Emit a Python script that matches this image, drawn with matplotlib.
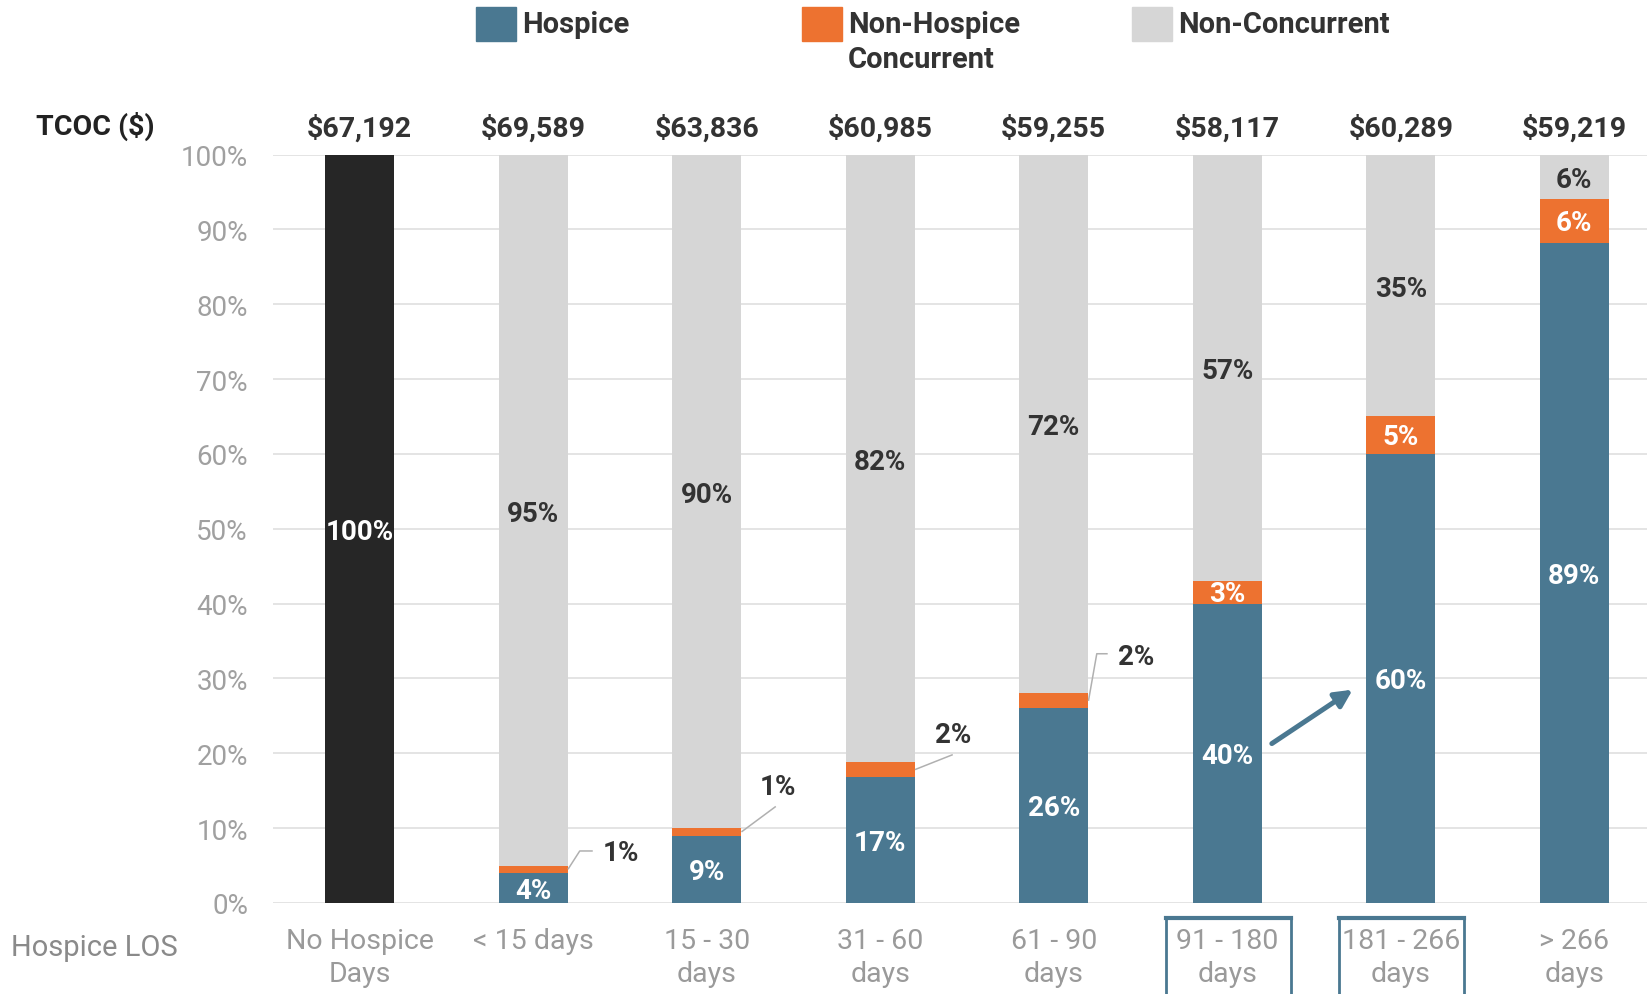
import matplotlib
matplotlib.use("Agg")
import matplotlib.pyplot as plt
from matplotlib.patches import Rectangle
from matplotlib.lines import Line2D
from matplotlib.transforms import blended_transform_factory
import numpy as np

plt.rcParams['font.family'] = ['Roboto', 'DejaVu Sans']

# ---------------- data ----------------
categories = ["No Hospice\nDays", "< 15 days", "15 - 30\ndays", "31 - 60\ndays",
              "61 - 90\ndays", "91 - 180\ndays", "181 - 266\ndays", "> 266\ndays"]
tcoc = ["$67,192", "$69,589", "$63,836", "$60,985", "$59,255", "$58,117", "$60,289", "$59,219"]
hospice = [0, 4, 9, 17, 26, 40, 60, 89]
non_hospice_concurrent = [0, 1, 1, 2, 2, 3, 5, 6]
non_concurrent = [100, 95, 90, 82, 72, 57, 35, 6]
yticks = [0, 10, 20, 30, 40, 50, 60, 70, 80, 90, 100]
highlight = [5, 6]

# ---------------- style ----------------
BLUE = "#4a7891"
ORANGE = "#ed7230"
GRAY = "#d6d6d6"
BLACK = "#262626"
DARK = "#333333"
W, H = 1647, 995
FS = 20

fig = plt.figure(figsize=(W / 100, H / 100), dpi=100)
ax = fig.add_axes([273 / W, (H - 904) / H, 1388 / W, (904 - 155.5) / H])

x = np.arange(len(categories))
hos = np.array(hospice, float)
nhc = np.array(non_hospice_concurrent, float)
nc = np.array(non_concurrent, float)
tot = hos + nhc + nc
hos_s, nhc_s, nc_s = hos / tot * 100, nhc / tot * 100, nc / tot * 100

bw = 0.40
ax.bar(x, hos_s, bw, color=BLUE, zorder=3)
ax.bar(x, nhc_s, bw, bottom=hos_s, color=ORANGE, zorder=3)
top_colors = [BLACK] + [GRAY] * (len(x) - 1)
ax.bar(x, nc_s, bw, bottom=hos_s + nhc_s, color=top_colors, zorder=3)

ax.set_xlim(-0.5, len(x) - 0.5)
ax.set_ylim(0, 100)
ax.set_yticks(yticks)
ax.set_yticklabels([f"{v}%" for v in yticks])
ax.tick_params(axis='y', length=0, pad=18, labelsize=20, labelcolor="#a0a0a0")
ax.set_xticks(x)
ax.set_xticklabels(categories, linespacing=1.25)
ax.tick_params(axis='x', length=0, pad=17.5, labelsize=20.5, labelcolor="#9a9a9a")
for s in ax.spines.values():
    s.set_visible(False)
ax.yaxis.grid(True, color="#e2e2e2", lw=1.3, zorder=0)
ax.set_axisbelow(True)

# value labels
for i in range(len(x)):
    if hos[i] > 0:
        ax.text(x[i], hos_s[i] / 2 - 0.3, f"{hospice[i]}%", ha='center', va='center',
                color='white', fontsize=FS, fontweight='bold', zorder=5)
    if nhc[i] >= 3:
        ax.text(x[i], hos_s[i] + nhc_s[i] / 2 - 0.2, f"{non_hospice_concurrent[i]}%",
                ha='center', va='center', color='white', fontsize=FS,
                fontweight='bold', zorder=5)
    ax.text(x[i], hos_s[i] + nhc_s[i] + nc_s[i] / 2 - 0.4, f"{non_concurrent[i]}%",
            ha='center', va='center', color='white' if i == 0 else DARK,
            fontsize=FS, fontweight='bold', zorder=5)

# leader-line labels for small orange segments: (path offsets, text offset, ha)
leaders = {
    1: ([(0, 0), (0.068, 2.45), (0.143, 2.45)], (0.2, 2.2), 'left'),
    2: ([(0, 0), (0.198, 3.4)], (0.21, 6.0), 'center'),
    3: ([(0, 0), (0.218, 2.0)], (0.22, 4.7), 'center'),
    4: ([(0, 0), (0.048, 6.3), (0.111, 6.3)], (0.17, 5.9), 'left'),
}
for i, (path, toff, ha) in leaders.items():
    sx, sy = x[i] + bw / 2, hos_s[i] + nhc_s[i] / 2
    ax.plot([sx + p[0] for p in path], [sy + p[1] for p in path],
            color="#b0b0b0", lw=1.1, zorder=4, solid_capstyle='butt')
    ax.text(sx + toff[0], sy + toff[1], f"{non_hospice_concurrent[i]}%", ha=ha,
            va='center', color=DARK, fontsize=FS, fontweight='bold', zorder=5)

# arrow between highlighted bars
ax.annotate('', xy=(5.723, 28.5), xytext=(5.257, 21.3),
            arrowprops=dict(arrowstyle='-|>', lw=3.6, color=BLUE,
                            mutation_scale=26, shrinkA=0, shrinkB=0), zorder=6)

# TCOC row
tr = blended_transform_factory(ax.transData, fig.transFigure)
for i, t in enumerate(tcoc):
    ax.text(x[i], 1 - 129 / H, t, transform=tr, ha='center', va='center',
            fontsize=20.5, fontweight='bold', color=DARK)
fig.text(95 / W, 1 - 126 / H, "TCOC ($)", ha='center', va='center',
         fontsize=20.5, fontweight='bold', color="#222222")
fig.text(11 / W, 1 - 948 / H, "Hospice LOS", ha='left', va='center',
         fontsize=21, color="#8a8a8a")

# highlight boxes around labels
for i in highlight:
    cx = 360 + i * 173.5
    x0, x1 = (cx - 62) / W, (cx + 63) / W
    y0, y1 = -0.02, 1 - 919 / H
    fig.add_artist(Line2D([x0, x0, x1, x1], [y0, y1, y1, y0], color=BLUE,
                          lw=2.0, transform=fig.transFigure))
    fig.add_artist(Line2D([x0, x1], [y1, y1], color=BLUE, lw=3.0,
                          transform=fig.transFigure))

# legend (manual)
legend_items = [("Hospice", BLUE, 476), ("Non-Hospice\nConcurrent", ORANGE, 802),
                ("Non-Concurrent", GRAY, 1132)]
for label, col, px in legend_items:
    fig.add_artist(Rectangle((px / W, 1 - 42 / H), 40 / W, 34 / H,
                             transform=fig.transFigure, color=col))
    fig.text((px + 46) / W, 1 - 11 / H, label, ha='left', va='top',
             fontsize=21, fontweight='bold', color=DARK, linespacing=1.33)

fig.savefig("out.png", dpi=100)
